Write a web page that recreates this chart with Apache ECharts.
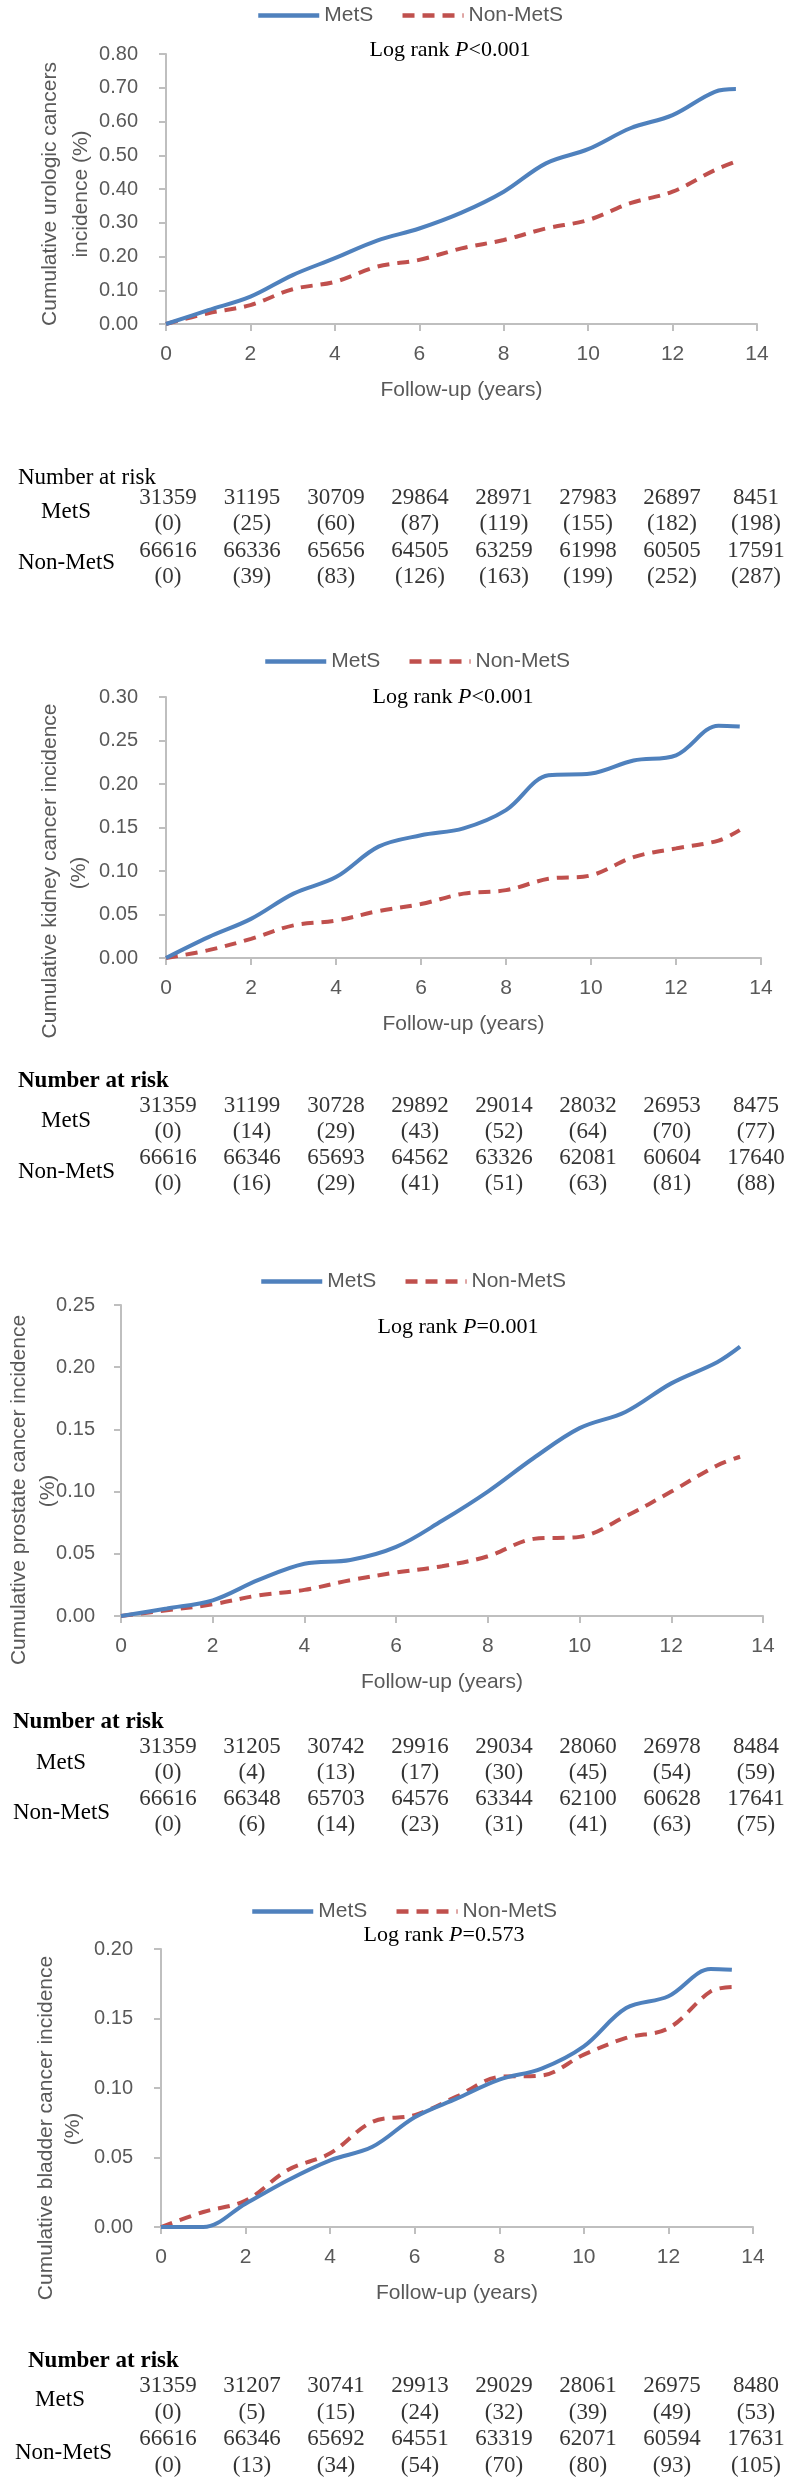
<!DOCTYPE html>
<html><head><meta charset="utf-8">
<script src="https://cdn.jsdelivr.net/npm/echarts@6/dist/echarts.min.js"></script>
<style>html,body{margin:0;padding:0;background:#fff}#c{width:798px;height:2480px}</style>
</head><body><div id="c"></div>
<script>
// ---------- DATA ----------
const years = [0,1,2,3,4,5,6,7,8,9,10,11,12,13,13.5];
const urologicMetS    = [0,0.041,0.081,0.145,0.195,0.247,0.283,0.330,0.392,0.476,0.518,0.580,0.619,0.688,0.696];
const urologicNonMetS = [0,0.032,0.056,0.103,0.125,0.170,0.190,0.224,0.249,0.283,0.308,0.358,0.392,0.456,0.481];
const kidneyMetS      = [0,0.024,0.045,0.074,0.093,0.128,0.141,0.149,0.170,0.210,0.212,0.227,0.233,0.267,0.266];
const kidneyNonMetS   = [0,0.009,0.022,0.0375,0.043,0.054,0.062,0.074,0.078,0.091,0.095,0.116,0.126,0.135,0.147];
const prostateMetS    = [0,0.006,0.0126,0.029,0.042,0.045,0.0555,0.0765,0.100,0.127,0.151,0.164,0.187,0.204,0.2165];
const prostateNonMetS = [0,0.0046,0.0094,0.0166,0.021,0.0287,0.035,0.040,0.048,0.062,0.0636,0.080,0.100,0.121,0.128];
const bladderMetS     = [0,0,0.0168,0.0337,0.048,0.0577,0.079,0.0925,0.106,0.114,0.130,0.1575,0.166,0.1856,0.185];
const bladderNonMetS  = [0,0.0108,0.019,0.041,0.053,0.0757,0.0805,0.094,0.108,0.109,0.124,0.136,0.143,0.1695,0.1726];

const yMaxes = [0.8, 0.3, 0.25, 0.2];
const yIntervals = [0.1, 0.05, 0.05, 0.05];
const xTicks = [0, 14, 2]; // min, max, interval
const seriesNames = ['MetS', 'Non-MetS'];
const pValueTexts = ['<0.001', '<0.001', '=0.001', '=0.573'];
const yNames = [
  ['Cumulative urologic cancers', 'incidence (%)'],
  ['Cumulative kidney cancer incidence', '(%)'],
  ['Cumulative prostate cancer incidence', '(%)'],
  ['Cumulative bladder cancer incidence', '(%)']
];
const xName = 'Follow-up (years)';

const riskTimes = [0,2,4,6,8,10,12,14];
const urologicRiskMetS      = [31359,31195,30709,29864,28971,27983,26897,8451];
const urologicEventsMetS    = [0,25,60,87,119,155,182,198];
const urologicRiskNonMetS   = [66616,66336,65656,64505,63259,61998,60505,17591];
const urologicEventsNonMetS = [0,39,83,126,163,199,252,287];
const kidneyRiskMetS        = [31359,31199,30728,29892,29014,28032,26953,8475];
const kidneyEventsMetS      = [0,14,29,43,52,64,70,77];
const kidneyRiskNonMetS     = [66616,66346,65693,64562,63326,62081,60604,17640];
const kidneyEventsNonMetS   = [0,16,29,41,51,63,81,88];
const prostateRiskMetS      = [31359,31205,30742,29916,29034,28060,26978,8484];
const prostateEventsMetS    = [0,4,13,17,30,45,54,59];
const prostateRiskNonMetS   = [66616,66348,65703,64576,63344,62100,60628,17641];
const prostateEventsNonMetS = [0,6,14,23,31,41,63,75];
const bladderRiskMetS       = [31359,31207,30741,29913,29029,28061,26975,8480];
const bladderEventsMetS     = [0,5,15,24,32,39,49,53];
const bladderRiskNonMetS    = [66616,66346,65692,64551,63319,62071,60594,17631];
const bladderEventsNonMetS  = [0,13,34,54,70,80,93,105];

// ---------- ASSEMBLY ----------
const curves = [
  [urologicMetS, urologicNonMetS],
  [kidneyMetS, kidneyNonMetS],
  [prostateMetS, prostateNonMetS],
  [bladderMetS, bladderNonMetS]
];
const tables = [
  [urologicRiskMetS, urologicEventsMetS, urologicRiskNonMetS, urologicEventsNonMetS],
  [kidneyRiskMetS, kidneyEventsMetS, kidneyRiskNonMetS, kidneyEventsNonMetS],
  [prostateRiskMetS, prostateEventsMetS, prostateRiskNonMetS, prostateEventsNonMetS],
  [bladderRiskMetS, bladderEventsMetS, bladderRiskNonMetS, bladderEventsNonMetS]
];

const SANS = '"Liberation Sans", Arial, sans-serif';
const SERIF = '"Liberation Serif", "Times New Roman", serif';
const BLUE = '#4F81BD', RED = '#C0504D', AX = '#BFBFBF', TXT = '#595959';

const layouts = [
  {grid:{left:166, top:54, width:591, height:270}, lm:28, legend:{left:251, top:0}, title:{x:450, y:50},
   yn:[{x:50,y:194},{x:81,y:194}],
   tbl:{top:498, height:79, hdr:{x:18,y:478,bold:false}, mets:{x:66,y:512}, non:{x:18,y:563}}},
  {grid:{left:166, top:697, width:595, height:261}, lm:28, legend:{left:258, top:646}, title:{x:453, y:697},
   yn:[{x:50,y:871},{x:79,y:873}],
   tbl:{top:1106, height:78, hdr:{x:18,y:1081,bold:true}, mets:{x:66,y:1121}, non:{x:18,y:1172}}},
  {grid:{left:121, top:1305, width:642, height:311}, lm:26, legend:{left:254, top:1266}, title:{x:458, y:1327},
   yn:[{x:19,y:1490},{x:48,y:1491}],
   tbl:{top:1747, height:78, hdr:{x:13,y:1722,bold:true}, mets:{x:61,y:1763}, non:{x:13,y:1813}}},
  {grid:{left:161, top:1949, width:592, height:278}, lm:28, legend:{left:245, top:1896}, title:{x:444, y:1935},
   yn:[{x:46,y:2128},{x:73,y:2129}],
   tbl:{top:2386, height:80, hdr:{x:28,y:2361,bold:true}, mets:{x:60,y:2400}, non:{x:15,y:2453}}}
];

const grid = [], xAxis = [], yAxis = [], series = [], legend = [], graphic = [];

layouts.forEach((L, i) => {
  const pg = grid.length;          // plot grid index
  grid.push(L.grid);
  xAxis.push({
    type:'value', gridIndex:pg, min:xTicks[0], max:xTicks[1], interval:xTicks[2],
    name:xName, nameLocation:'middle', nameGap:56,
    nameTextStyle:{fontFamily:SANS, fontSize:21, color:TXT},
    axisLine:{show:true, lineStyle:{color:AX, width:2}},
    axisTick:{show:true, length:7, lineStyle:{color:AX, width:2}},
    axisLabel:{fontFamily:SANS, fontSize:21, color:TXT, margin:20},
    splitLine:{show:false}
  });
  yAxis.push({
    type:'value', gridIndex:pg, min:0, max:yMaxes[i], interval:yIntervals[i],
    axisLine:{show:true, lineStyle:{color:AX, width:2}},
    axisTick:{show:true, length:7, lineStyle:{color:AX, width:2}},
    axisLabel:{fontFamily:SANS, fontSize:20, color:TXT, margin:L.lm, formatter:v => v.toFixed(2)},
    splitLine:{show:false}
  });
  curves[i].forEach((vals, k) => {
    series.push({
      type:'line', name:seriesNames[k], xAxisIndex:pg, yAxisIndex:pg,
      data: years.map((x, j) => [x, vals[j]]),
      smooth:0.35, symbol:'none', silent:true,
      lineStyle: k === 0 ? {color:BLUE, width:4} : {color:RED, width:4, type:[12,8]},
      itemStyle:{color: k === 0 ? BLUE : RED},
      z: k === 0 ? 3 : 2
    });
  });
  legend.push({
    data:seriesNames, left:L.legend.left, top:L.legend.top, itemWidth:61, itemHeight:14, itemGap:27,
    itemStyle:{opacity:0}, lineStyle:{width:4.5},
    textStyle:{fontFamily:SANS, fontSize:21, color:TXT}, selectedMode:false
  });
  graphic.push({
    type:'text', x:L.title.x, y:L.title.y, silent:true,
    style:{
      text:'{n|Log rank }{i|P}{n|' + pValueTexts[i] + '}',
      align:'center', verticalAlign:'middle',
      rich:{
        n:{fontFamily:SERIF, fontSize:22, fill:'#000'},
        i:{fontFamily:SERIF, fontSize:22, fontStyle:'italic', fill:'#000'}
      }
    }
  });
  yNames[i].forEach((t, k) => {
    graphic.push({
      type:'text', x:L.yn[k].x, y:L.yn[k].y, rotation:Math.PI/2, silent:true,
      style:{text:t, font:'21px ' + SANS, fill:TXT, align:'center', verticalAlign:'middle'}
    });
  });
  // risk table grid
  const tg = grid.length;
  grid.push({left:168, width:588, top:L.tbl.top, height:L.tbl.height});
  xAxis.push({type:'value', gridIndex:tg, min:riskTimes[0], max:riskTimes[riskTimes.length-1], show:false});
  yAxis.push({type:'value', gridIndex:tg, min:0, max:3, inverse:true, show:false});
  const T = tables[i];
  const cells = [];
  riskTimes.forEach((t, j) => {
    cells.push([t, 0, String(T[0][j])]);
    cells.push([t, 1, '(' + T[1][j] + ')']);
    cells.push([t, 2, String(T[2][j])]);
    cells.push([t, 3, '(' + T[3][j] + ')']);
  });
  series.push({
    type:'scatter', name:'risk' + i, xAxisIndex:tg, yAxisIndex:tg, silent:true,
    symbolSize:0, itemStyle:{color:'transparent'}, data:cells,
    label:{show:true, position:'inside', formatter:p => p.data[2], fontFamily:SERIF, fontSize:23, color:'#000'}
  });
  graphic.push({type:'text', x:L.tbl.hdr.x, y:L.tbl.hdr.y, silent:true,
    style:{text:'Number at risk', font:(L.tbl.hdr.bold ? 'bold ' : '') + '23px ' + SERIF, fill:'#000', align:'left', verticalAlign:'middle'}});
  graphic.push({type:'text', x:L.tbl.mets.x, y:L.tbl.mets.y, silent:true,
    style:{text:'MetS', font:'23px ' + SERIF, fill:'#000', align:'center', verticalAlign:'middle'}});
  graphic.push({type:'text', x:L.tbl.non.x, y:L.tbl.non.y, silent:true,
    style:{text:'Non-MetS', font:'23px ' + SERIF, fill:'#000', align:'left', verticalAlign:'middle'}});
});

const chart = echarts.init(document.getElementById('c'), null, {renderer:'canvas'});
chart.setOption({
  animation:false, backgroundColor:'#fff',
  grid, xAxis, yAxis, series, legend, graphic
});
</script></body></html>
